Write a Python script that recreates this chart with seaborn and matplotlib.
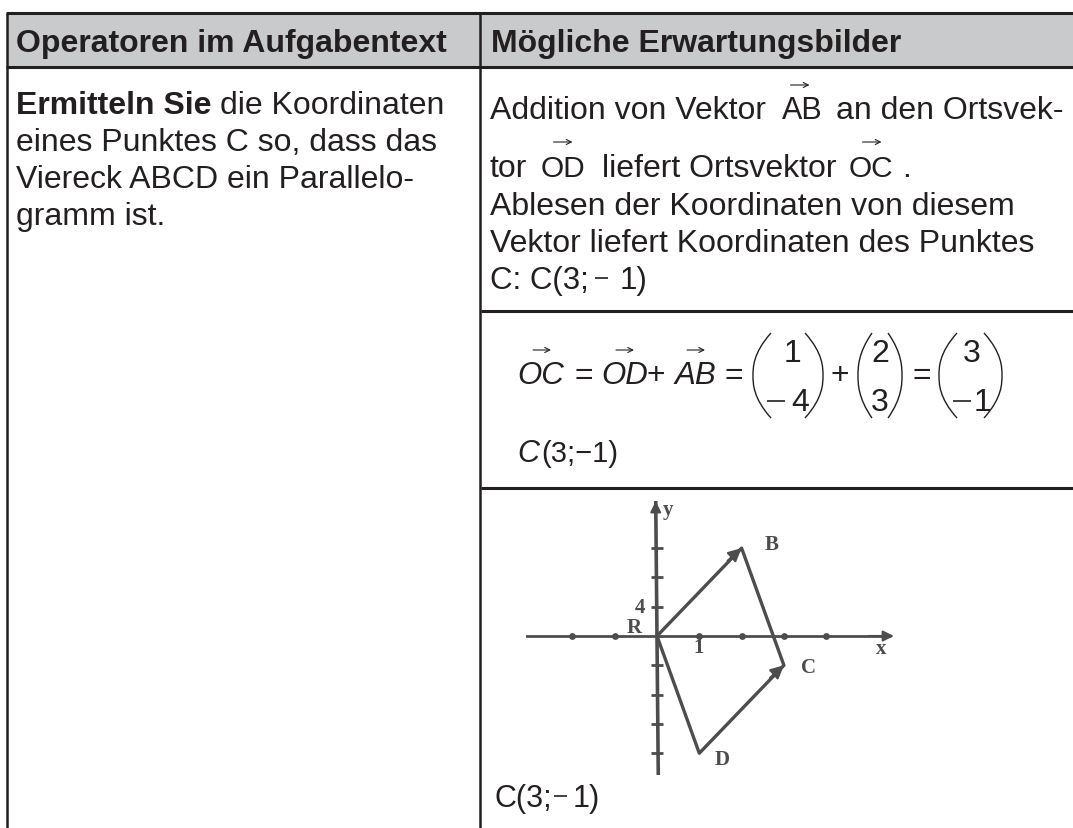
import numpy as np
import pandas as pd
import matplotlib
matplotlib.use("Agg")
import matplotlib.pyplot as plt
from matplotlib.patches import PathPatch, Rectangle
from matplotlib.path import Path
import seaborn as sns

sns.set_theme(style="white")
plt.rcParams['font.family'] = ['Liberation Sans', 'DejaVu Sans']

# vectors in the little coordinate sketch
point_names = ['O', 'B', 'C', 'D']
point_x = [0, 2, 3, 1]
point_y = [0, 3, -1, -4]
x_ticks = [-2, -1, 1, 2, 3, 4]
y_ticks = [-4, -3, -2, -1, 1, 2, 3]

header_labels = ['Operatoren im Aufgabentext', 'Mögliche Erwartungsbilder']
left_lines = ['eines Punktes C so, dass das', 'Viereck ABCD ein Parallelo-', 'gramm ist.']
right_lines = ['Ablesen der Koordinaten von diesem', 'Vektor liefert Koordinaten des Punktes']

W, H = 1073, 829
fig = plt.figure(figsize=(W / 100, H / 100), dpi=100, facecolor='white')
ax = fig.add_axes([0, 0, 1, 1])
ax.set_xlim(0, W)
ax.set_ylim(H, 0)
ax.axis('off')

ink = '#231f20'
fs = 23


def txt(x, y, s, size=fs, **kw):
    kw.setdefault('va', 'baseline')
    kw.setdefault('color', ink)
    ax.text(x, y, s, fontsize=size, **kw)


def arrow_over(x, y, width=19):
    ax.annotate('', xy=(x + width / 2, y), xytext=(x - width / 2, y),
                arrowprops=dict(arrowstyle='->', color=ink, lw=0.8, mutation_scale=9,
                                shrinkA=0, shrinkB=0))


def minus(x0, x1, y):
    ax.plot([x0, x1], [y, y], color=ink, lw=1.2, solid_capstyle='butt')


def paren(x0, x1, y0, y1, side):
    # thin curved bracket of the column vectors
    tip, belly = (x1, x0) if side == 'l' else (x0, x1)
    ym = (y0 + y1) / 2
    verts = [(tip, y0), (belly, y0 + 20), (belly, ym - 8), (belly, ym),
             (belly, ym + 8), (belly, y1 - 20), (tip, y1)]
    codes = [Path.MOVETO] + [Path.CURVE4] * 6
    ax.add_patch(PathPatch(Path(verts, codes), fc='none', ec=ink, lw=1.0))


# table
ax.add_patch(Rectangle((7, 14), W - 7, 54, fc='#c8cacb', ec='none'))
for y in [14, 68]:
    ax.plot([6, W], [y, y], color=ink, lw=2.2, solid_capstyle='butt')
for y in [312, 489]:
    ax.plot([481, W], [y, y], color=ink, lw=2.2, solid_capstyle='butt')
ax.plot([7, 7], [14, H], color=ink, lw=1.8, solid_capstyle='butt')
ax.plot([480, 480], [14, H], color=ink, lw=1.8, solid_capstyle='butt')

txt(16, 52, header_labels[0], weight='bold')
txt(491, 52, header_labels[1], weight='bold')

# left column
txt(16, 114, 'Ermitteln Sie', weight='bold')
txt(220, 114, 'die Koordinaten')
for y, line in zip([151, 188, 225], left_lines):
    txt(16, y, line)

# right column, first cell
txt(490, 119, 'Addition von Vektor')
txt(782, 119, 'AB', size=22)
arrow_over(800, 86)
txt(836, 119, 'an den Ortsvek-')
txt(490, 177, 'tor')
txt(541, 177, 'OD', size=21.5)
arrow_over(563, 143)
txt(602, 177, 'liefert Ortsvektor')
txt(849, 177, 'OC', size=21.5)
arrow_over(872, 143)
txt(902, 177, '.')
for y, line in zip([215, 252], right_lines):
    txt(490, y, line)
txt(490, 289, 'C: C(3;', size=22.5)
minus(595, 608, 279)
txt(620, 289, '1)', size=22.5)

# formula cell
txt(517, 384, 'OC', style='italic', size=22.5)
arrow_over(542, 351, 18)
txt(574, 384, '=', size=23)
txt(601, 384, 'OD', style='italic', size=22.5)
arrow_over(625, 351, 18)
txt(647, 384, '+', size=23)
txt(675, 384, 'AB', style='italic', size=22.5)
arrow_over(696, 351, 18)
txt(725, 384, '=', size=23)
txt(831, 384, '+', size=23)
txt(912, 384, '=', size=23)

paren(753, 771, 334, 419, 'l')
paren(805, 823, 334, 419, 'r')
txt(792, 362, '1', ha='center')
minus(767, 785, 402)
txt(800, 411, '4', ha='center')
paren(858, 872, 334, 419, 'l')
paren(888, 902, 334, 419, 'r')
txt(880, 362, '2', ha='center')
txt(880, 411, '3', ha='center')
paren(939, 957, 334, 419, 'l')
paren(984, 1002, 334, 419, 'r')
txt(972, 362, '3', ha='center')
minus(953, 971, 402)
txt(983, 411, '1', ha='center')
txt(517, 462, 'C', style='italic', size=22)
txt(541, 462, '(3;\u22121)', size=21)

# bottom cell
txt(495, 807, 'C(3;', size=22)
minus(554, 567, 797)
txt(573, 807, '1)', size=22)

# coordinate sketch, axes placed so that one unit matches the scan
px_ox, px_oy = 657, 637
ux, uy = 42.3, 29.3
x0, x1 = -3.1, 5.6
y0, y1 = -4.75, 4.6
sketch = fig.add_axes([(px_ox + x0 * ux) / W, 1 - (px_oy - y0 * uy) / H,
                       (x1 - x0) * ux / W, (y1 - y0) * uy / H])
sketch.set_xlim(x0, x1)
sketch.set_ylim(y0, y1)
sketch.axis('off')
sketch.patch.set_alpha(0)

grey = '#4d4d4d'
df = pd.DataFrame({'x': point_x, 'y': point_y}, index=point_names)
# outline O-B-C-D-O
ring = df.loc[['O', 'B', 'C', 'D', 'O']]
sns.lineplot(x=ring['x'].values, y=ring['y'].values, sort=False, estimator=None,
             color=grey, lw=2.4, ax=sketch)
sketch.plot([x0, x1 - 0.1], [0, 0], color=grey, lw=2)
sketch.plot([-0.03, 0.03], [y1, y0], color=grey, lw=2.6)
sns.scatterplot(x=x_ticks, y=[0] * len(x_ticks), marker='o', s=24, color=grey, ax=sketch, linewidth=0)
sns.scatterplot(x=[0] * len(y_ticks), y=y_ticks, marker='_', s=70, color=grey, ax=sketch, linewidth=2)

for start, end in [('O', 'B'), ('D', 'C')]:
    sketch.annotate('', xy=(df.x[end], df.y[end]),
                    xytext=(df.x[end] - 0.33 * np.sign(df.x[end] - df.x[start]),
                            df.y[end] - 0.43 * np.sign(df.y[end] - df.y[start])),
                    arrowprops=dict(arrowstyle='-|>', color=grey, lw=1.5, mutation_scale=20,
                                    shrinkA=0, shrinkB=0))
sketch.annotate('', xy=(x1, 0), xytext=(x1 - 0.6, 0),
                arrowprops=dict(arrowstyle='-|>', color=grey, lw=1.5, mutation_scale=16, shrinkA=0, shrinkB=0))
sketch.annotate('', xy=(-0.03, y1), xytext=(-0.03, y1 - 0.6),
                arrowprops=dict(arrowstyle='-|>', color=grey, lw=1.5, mutation_scale=16, shrinkA=0, shrinkB=0))

# hand lettering of the sketch
for x, y, s in [(2.7, 3.15, 'B'), (3.57, -1.05, 'C'), (1.55, -4.2, 'D'), (5.3, -0.42, 'x'),
                (-0.55, 0.32, 'R'), (-0.4, 1.0, '4'), (0.98, -0.38, '1'), (0.25, 4.35, 'y')]:
    sketch.text(x, y, s, fontsize=15, weight='bold', family=['Liberation Serif'], color=grey, ha='center', va='center')

fig.savefig('out.png', dpi=100)
